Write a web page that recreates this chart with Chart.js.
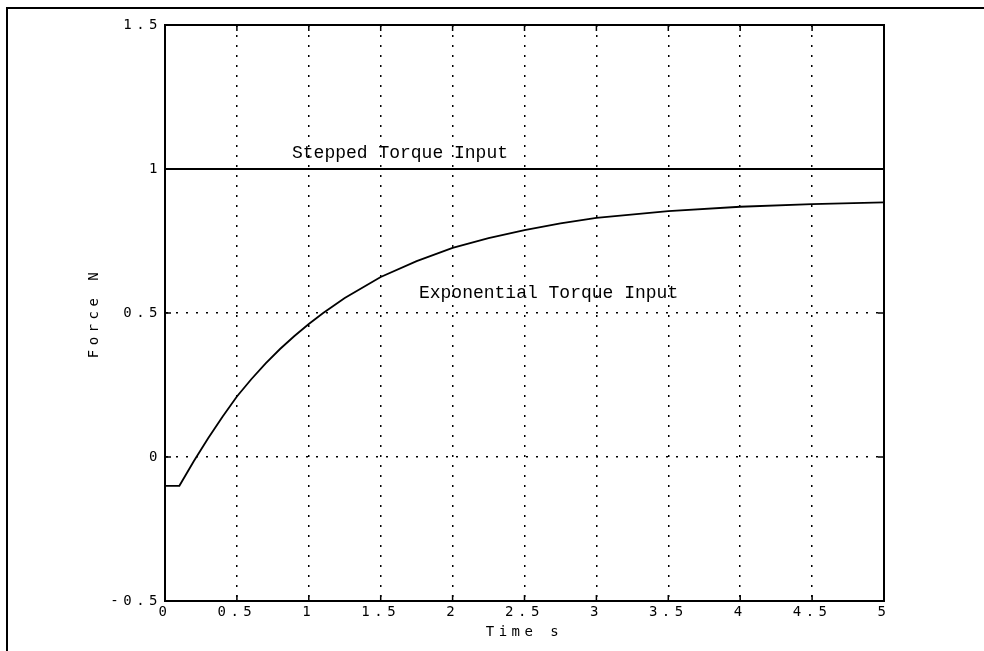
<!DOCTYPE html>
<html>
<head>
<meta charset="utf-8">
<script src="https://cdn.jsdelivr.net/npm/chart.js@4.4.1/dist/chart.umd.min.js"></script>
<style>
  html, body { margin: 0; padding: 0; background: #fff; }
  #wrap { position: relative; width: 984px; height: 651px; }
</style>
</head>
<body>
<div id="wrap"><canvas id="chart"></canvas></div>
<script>
// valores
const steppedTime  = [0, 5];
const steppedForce = [1, 1];

const expTime  = [0, 0.1, 0.2, 0.3, 0.4, 0.5, 0.6, 0.7, 0.8, 0.9, 1.0, 1.1, 1.25, 1.5, 1.75, 2.0, 2.25, 2.5, 2.75, 3.0, 3.5, 4.0, 4.5, 5.0];
const expForce = [-0.10, -0.10, -0.015, 0.065, 0.14, 0.21, 0.27, 0.325, 0.375, 0.42, 0.462, 0.50, 0.552, 0.625, 0.68, 0.726, 0.76, 0.788, 0.811, 0.83, 0.854, 0.869, 0.878, 0.884];

const xTicks = [0, 0.5, 1, 1.5, 2, 2.5, 3, 3.5, 4, 4.5, 5];
const yTicks = [-0.5, 0, 0.5, 1, 1.5];

const notes = [
  { text: 'Stepped Torque Input',     x: 0.883, y: 1.038 },
  { text: 'Exponential Torque Input', x: 1.766, y: 0.552 },
];

const toPts = (xs, ys) => xs.map((x, i) => ({ x, y: ys[i] }));
const SPACING = '4.5px';

const framePlugin = {
  id: 'frame',
  beforeLayout(chart) { chart.ctx.letterSpacing = SPACING; },
  beforeDraw(chart) {
    const ctx = chart.ctx;
    ctx.letterSpacing = SPACING;
    ctx.save();
    ctx.strokeStyle = '#000';
    ctx.lineWidth = 2;
    ctx.beginPath();
    ctx.moveTo(7, chart.height);
    ctx.lineTo(7, 8);
    ctx.lineTo(chart.width, 8);
    ctx.stroke();
    ctx.restore();
  },
  afterDatasetsDraw(chart) {
    const { ctx, chartArea: a, scales: { x, y } } = chart;
    ctx.save();
    ctx.strokeStyle = '#000';
    ctx.lineWidth = 2;
    ctx.strokeRect(a.left, a.top, a.right - a.left, a.bottom - a.top);

    // pequenas marcas internas
    ctx.lineWidth = 1.5;
    ctx.beginPath();
    xTicks.forEach(v => {
      const px = x.getPixelForValue(v);
      ctx.moveTo(px, a.bottom); ctx.lineTo(px, a.bottom - 6);
      ctx.moveTo(px, a.top);    ctx.lineTo(px, a.top + 6);
    });
    yTicks.forEach(v => {
      const py = y.getPixelForValue(v);
      ctx.moveTo(a.left, py);  ctx.lineTo(a.left + 6, py);
      ctx.moveTo(a.right, py); ctx.lineTo(a.right - 6, py);
    });
    ctx.stroke();

    ctx.letterSpacing = '0px';
    ctx.fillStyle = '#000';
    ctx.font = '18px "Liberation Mono", monospace';
    ctx.textAlign = 'left';
    ctx.textBaseline = 'alphabetic';
    notes.forEach(n => ctx.fillText(n.text, x.getPixelForValue(n.x), y.getPixelForValue(n.y)));
    ctx.restore();
    ctx.letterSpacing = SPACING;
  },
};

const axisFont = { family: '"DejaVu Sans Mono", monospace', size: 14 };
const fmt = v => String(v);

new Chart(document.getElementById('chart'), {
  type: 'line',
  data: {
    datasets: [
      {
        label: 'Stepped Torque Input',
        data: toPts(steppedTime, steppedForce),
        borderColor: '#000',
        borderWidth: 1.8,
        pointRadius: 0,
        tension: 0,
      },
      {
        label: 'Exponential Torque Input',
        data: toPts(expTime, expForce),
        borderColor: '#000',
        borderWidth: 1.8,
        pointRadius: 0,
        tension: 0,
      },
    ],
  },
  options: {
    responsive: true,
    maintainAspectRatio: false,
    animation: false,
    layout: { padding: { left: 83, right: 100, top: 25, bottom: 0 } },
    plugins: { legend: { display: false }, tooltip: { enabled: false } },
    scales: {
      x: {
        type: 'linear',
        min: 0, max: 5,
        afterBuildTicks: s => { s.ticks = xTicks.map(v => ({ value: v })); },
        afterFit: s => { s.height = 50; },
        grid: { color: '#000', lineWidth: 1.5, drawTicks: false },
        border: { display: true, color: '#000', width: 2, dash: [2, 8] },
        ticks: { color: '#000', font: axisFont, padding: 3, maxRotation: 0, autoSkip: false, callback: fmt },
        title: { display: true, text: 'Time s', color: '#000', font: axisFont, padding: { top: 0, bottom: 10 } },
      },
      y: {
        type: 'linear',
        min: -0.5, max: 1.5,
        afterBuildTicks: s => { s.ticks = yTicks.map(v => ({ value: v })); },
        afterFit: s => { s.width = 82; },
        grid: { color: '#000', lineWidth: 1.5, drawTicks: false },
        border: { display: true, color: '#000', width: 2, dash: [2, 8] },
        ticks: { color: '#000', font: axisFont, padding: 3, autoSkip: false, callback: fmt },
        title: { display: true, text: 'Force N', color: '#000', font: axisFont, padding: { top: 3, bottom: 0 } },
      },
    },
  },
  plugins: [framePlugin],
});
</script>
</body>
</html>
